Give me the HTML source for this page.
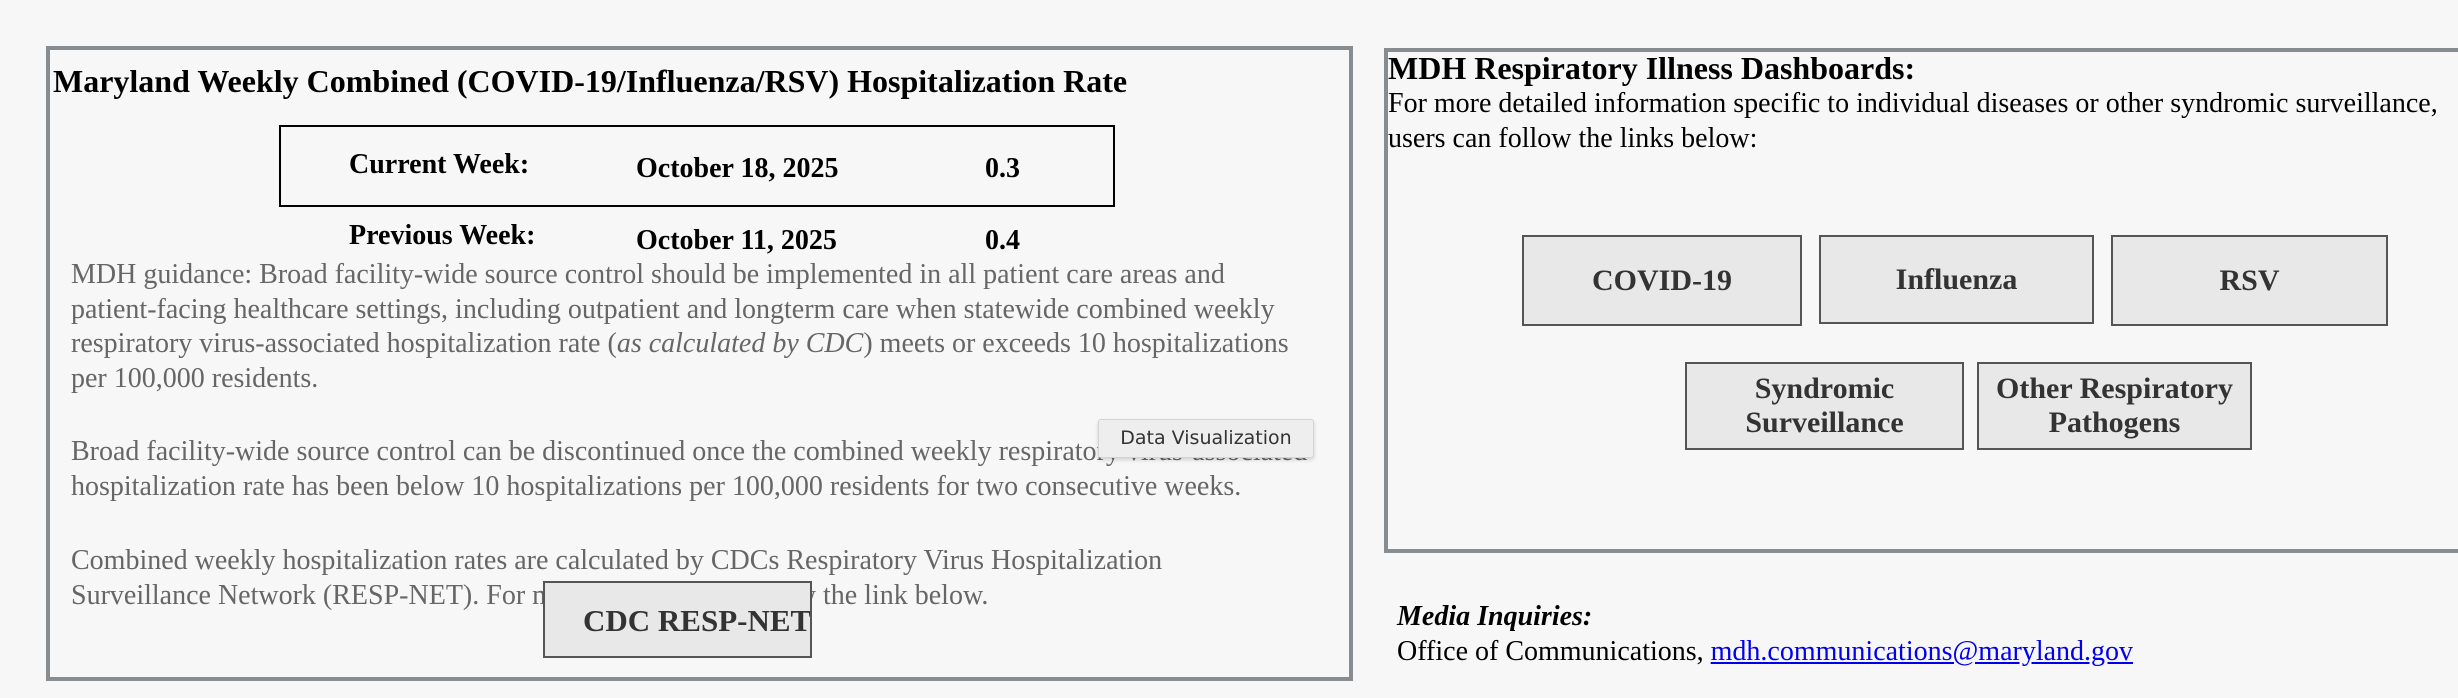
<!DOCTYPE html>
<html><head><meta charset="utf-8"><style>
body{margin:0;width:2458px;height:698px;background:#f7f7f7;position:relative;overflow:hidden;font-family:"Liberation Serif",serif;}
.a{position:absolute;white-space:nowrap;}
.box{position:absolute;border:4px solid #878c90;box-sizing:border-box;}
.b{font-weight:bold;}
.p{color:#666;font-size:28px;}
.btn{position:absolute;box-sizing:border-box;background:#e8e8e8;border:2px solid #555;color:#333;font-weight:bold;font-size:30px;display:flex;align-items:center;justify-content:center;text-align:center;line-height:34px;}
</style></head><body>
<div class="box" style="left:46px;top:46px;width:1307px;height:635px;"></div>
<div class="a b" style="left:53px;top:63px;font-size:32px;">Maryland Weekly Combined (COVID-19/Influenza/RSV) Hospitalization Rate</div>
<div style="position:absolute;left:279px;top:125px;width:836px;height:82px;border:2px solid #000;box-sizing:border-box;"></div>
<div class="a b" style="left:349px;top:149px;font-size:28px;">Current Week:</div>
<div class="a b" style="left:636px;top:153px;font-size:28px;">October 18, 2025</div>
<div class="a b" style="left:985px;top:153px;font-size:28px;">0.3</div>
<div class="a b" style="left:349px;top:220px;font-size:28px;">Previous Week:</div>
<div class="a b" style="left:636px;top:225px;font-size:28px;">October 11, 2025</div>
<div class="a b" style="left:985px;top:225px;font-size:28px;">0.4</div>
<div class="a p" style="left:71px;top:258px;line-height:34.5px;">MDH guidance: Broad facility-wide source control should be implemented in all patient care areas and<br>patient-facing healthcare settings, including outpatient and longterm care when statewide combined weekly<br>respiratory virus-associated hospitalization rate (<i>as calculated by CDC</i>) meets or exceeds 10 hospitalizations<br>per 100,000 residents.</div>
<div class="a p" style="left:71px;top:435px;line-height:34.5px;">Broad facility-wide source control can be discontinued once the combined weekly respiratory virus-associated<br>hospitalization rate has been below 10 hospitalizations per 100,000 residents for two consecutive weeks.</div>
<div class="a p" style="left:71px;top:544px;line-height:34.5px;">Combined weekly hospitalization rates are calculated by CDCs Respiratory Virus Hospitalization<br>Surveillance Network (RESP-NET). For more information, follow the link below.</div>
<div class="a" style="left:1098px;top:419px;width:214px;height:37px;background:#eeeeee;border:1px solid #d4d4d4;box-shadow:0 2px 4px rgba(0,0,0,0.15);font-family:'DejaVu Sans','Liberation Sans',sans-serif;font-size:19px;color:#333;line-height:37px;text-align:center;border-radius:3px;">Data Visualization</div>
<div style="position:absolute;left:543px;top:581px;width:269px;height:77px;box-sizing:border-box;background:#e8e8e8;border:2px solid #555;overflow:hidden;">
<div class="a b" style="left:38px;top:20px;font-size:31px;color:#333;">CDC RESP-NET</div></div>

<div class="box" style="left:1384px;top:48px;width:1090px;height:505px;"></div>
<div class="a b" style="left:1388px;top:50px;font-size:32px;">MDH Respiratory Illness Dashboards:</div>
<div class="a" style="left:1388px;top:86px;font-size:28px;line-height:35px;">For more detailed information specific to individual diseases or other syndromic surveillance,<br>users can follow the links below:</div>
<div class="btn" style="left:1522px;top:235px;width:280px;height:91px;">COVID-19</div>
<div class="btn" style="left:1819px;top:235px;width:275px;height:89px;">Influenza</div>
<div class="btn" style="left:2111px;top:235px;width:277px;height:91px;">RSV</div>
<div class="btn" style="left:1685px;top:362px;width:279px;height:88px;">Syndromic<br>Surveillance</div>
<div class="btn" style="left:1977px;top:362px;width:275px;height:88px;">Other Respiratory<br>Pathogens</div>
<div class="a b" style="left:1397px;top:601px;font-size:28px;"><i>Media Inquiries:</i></div>
<div class="a" style="left:1397px;top:636px;font-size:28px;">Office of Communications, <span style="color:#00e;text-decoration:underline;">mdh.communications@maryland.gov</span></div>
</body></html>
